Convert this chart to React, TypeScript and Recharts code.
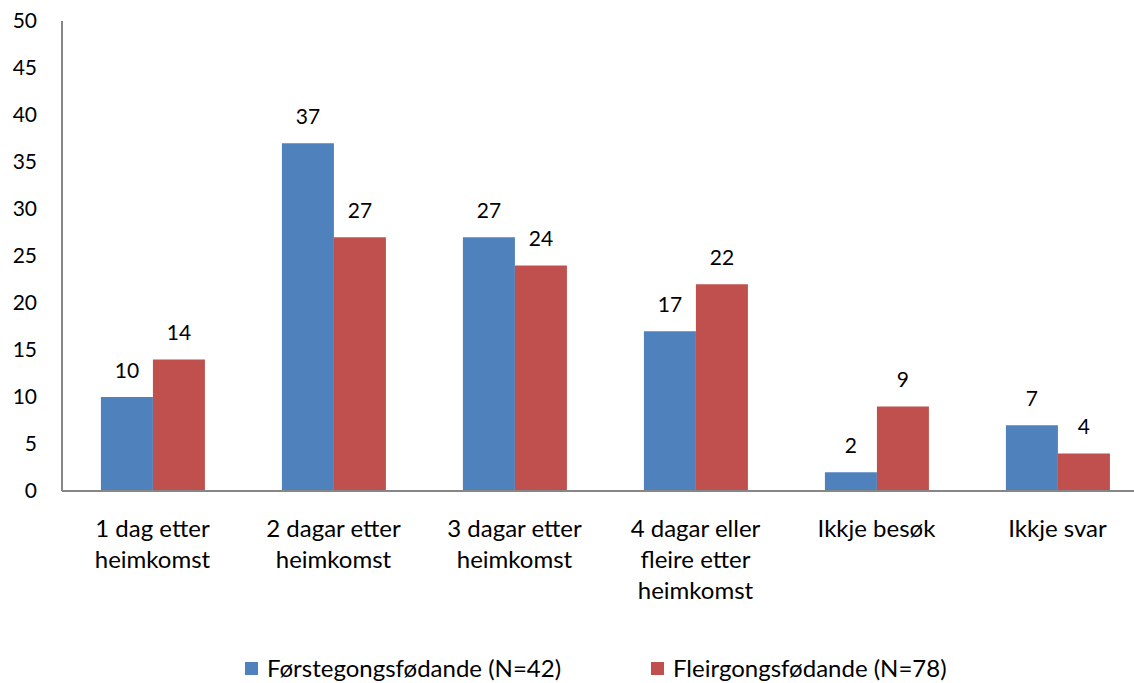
import React from "react"
import { BarChart, Bar, XAxis, YAxis, LabelList } from "recharts"

const categories = [
  "1 dag etter\nheimkomst",
  "2 dagar etter\nheimkomst",
  "3 dagar etter\nheimkomst",
  "4 dagar eller\nfleire etter\nheimkomst",
  "Ikkje besøk",
  "Ikkje svar",
]
const forstegongs = [10, 37, 27, 17, 2, 7]
const fleirgongs = [14, 27, 24, 22, 9, 4]
const yTicks = [0, 5, 10, 15, 20, 25, 30, 35, 40, 45, 50]

const seriesNames = ["Førstegongsfødande (N=42)", "Fleirgongsfødande (N=78)"]
const BLUE = "#4F81BD"
const RED = "#C0504D"
const FONT = "Lato, 'Open Sans', sans-serif"

const data = categories.map((c, i) => ({
  cat: c,
  a: forstegongs[i],
  b: fleirgongs[i],
}))

function CatTick(props: any) {
  const { x, y, payload } = props
  const lines = String(payload.value).split("\n")
  return (
    <text x={x} y={y} textAnchor="middle" fill="#000" fontSize={24} fontFamily={FONT}>
      {lines.map((l, i) => (
        <tspan key={i} x={x} dy={i === 0 ? 44 : 31}>
          {l}
        </tspan>
      ))}
    </text>
  )
}

export default function App() {
  return (
    <div
      style={{
        position: "absolute",
        left: 0,
        top: 0,
        width: 1134,
        height: 683,
        overflow: "hidden",
        background: "#fff",
      }}
    >
      <BarChart
        width={1160}
        height={683}
        data={data}
        margin={{ top: 21, right: 12, left: 0, bottom: 62 }}
        barCategoryGap="21.5%"
        barGap={0}
      >
        <YAxis
          width={62}
          domain={[0, 50]}
          ticks={yTicks}
          interval={0}
          tickLine={false}
          tickSize={0}
          tickMargin={25}
          axisLine={{ stroke: "#868686", strokeWidth: 2 }}
          tick={{ fontSize: 21, fill: "#000", fontFamily: FONT }}
        />
        <XAxis
          dataKey="cat"
          height={130}
          interval={0}
          tickLine={false}
          tickSize={0}
          axisLine={{ stroke: "#868686", strokeWidth: 2 }}
          tick={<CatTick />}
        />
        <Bar dataKey="a" fill={BLUE} isAnimationActive={false}>
          <LabelList dataKey="a" position="top" offset={19} fontSize={21} fill="#000" fontFamily={FONT} />
        </Bar>
        <Bar dataKey="b" fill={RED} isAnimationActive={false}>
          <LabelList dataKey="b" position="top" offset={19} fontSize={21} fill="#000" fontFamily={FONT} />
        </Bar>
      </BarChart>
      <svg
        width={1134}
        height={60}
        style={{ position: "absolute", left: 0, top: 623 }}
      >
        {seriesNames.map((n, i) => {
          const x = i === 0 ? 245 : 651
          return (
            <g key={n}>
              <rect x={x} y={39} width={13} height={13} fill={i === 0 ? BLUE : RED} />
              <text x={x + 22} y={54} fontSize={24} fontFamily={FONT} fill="#000">
                {n}
              </text>
            </g>
          )
        })}
      </svg>
    </div>
  )
}
